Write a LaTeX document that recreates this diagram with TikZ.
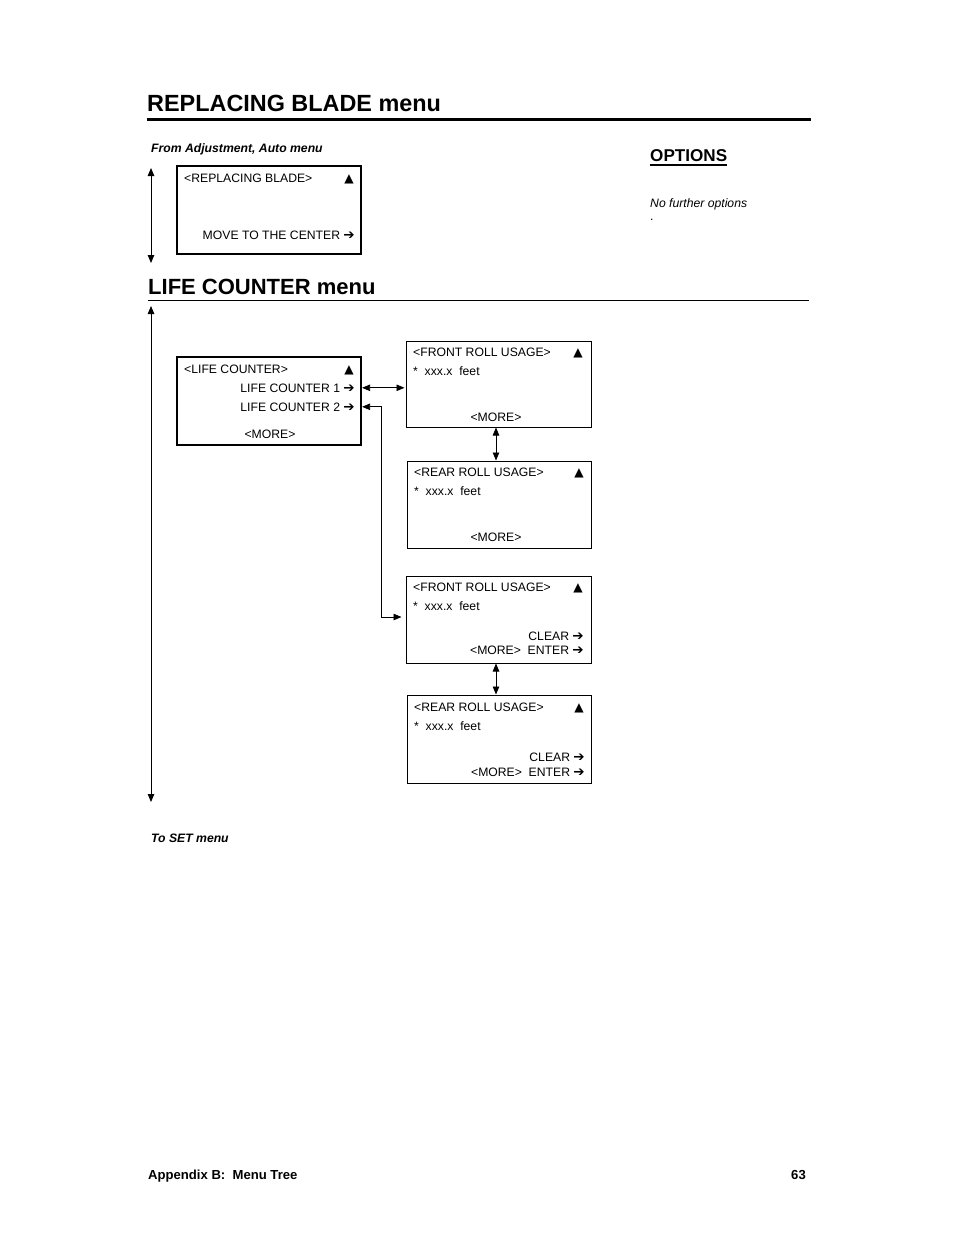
\documentclass[tikz,border=0pt]{standalone}
\usepackage{fontspec}
\setmainfont{Liberation Sans}
\newfontfamily\symfont{DejaVu Sans}
\usepackage{tikz}
\usetikzlibrary{arrows.meta}

\newcommand{\up}{{\symfont ▲}}
\newcommand{\go}{{\symfont\fontsize{13.5}{14}\selectfont ➔}}

\begin{document}
\begin{tikzpicture}[x=1pt,y=-1pt,
    txt/.style={inner sep=0pt, font=\fontsize{12.2}{14}\selectfont},
    menubox/.style={draw, line width=1pt, inner sep=0pt},
    mainbox/.style={menubox, line width=2.2pt},
    dbl/.style={line width=0.8pt,
                {Triangle[length=8pt,width=6.5pt]}-{Triangle[length=8pt,width=6.5pt]}}]

  \useasboundingbox (0,0) rectangle (954,1235);

  % ================= REPLACING BLADE menu =================
  \node[txt, anchor=base west, font=\fontsize{23.4}{26}\selectfont\bfseries] (headone) at (147,111.5) {REPLACING BLADE menu};
  \draw[line width=3pt] (147,119) -- (811,119);
  \node[txt, anchor=base west, font=\fontsize{12.2}{14}\selectfont\bfseries\itshape] (fromadj) at (151,152) {From Adjustment, Auto menu};

  % ---- the one box ----
  \node[mainbox, minimum width=184pt, minimum height=88pt] (blade) at (269,210) {};
  \node[txt, anchor=base west] (bladetitle) at (184,182) {<REPLACING BLADE>};
  \node[txt, anchor=base] (bladeup) at (349,182) {\up};
  \node[txt, anchor=base east] (blademove) at (355,239) {MOVE TO THE CENTER \go};

  \coordinate (bladetop) at (151,168);
  \coordinate (bladebot) at (151,263);
  \draw[dbl] (bladetop) -- (bladebot);

  % ---- options on the right ----
  \node[txt, anchor=base west, font=\fontsize{17.1}{20}\selectfont\bfseries] (opt) at (650,161) {OPTIONS};
  \draw[line width=1.6pt] ([yshift=-3.5pt]opt.south west) -- ([yshift=-3.5pt]opt.south east);
  \node[txt, anchor=base west, font=\fontsize{12.2}{14}\selectfont\itshape] (nofurther) at (650,207) {No further options};
  \node[txt, anchor=base west] (dot) at (650,220.5) {.};

  % ================= LIFE COUNTER menu =================
  \node[txt, anchor=base west, font=\fontsize{22}{26}\selectfont\bfseries] (headtwo) at (148,294) {LIFE COUNTER menu};
  \draw[line width=1.5pt] (148,300.5) -- (809,300.5);

  \coordinate (lifetop) at (151,306);
  \coordinate (lifebot) at (151,802);
  \draw[dbl] (lifetop) -- (lifebot);

  % ---- main box ----
  \node[mainbox, minimum width=184pt, minimum height=88pt] (lc) at (269,401) {};
  \node[txt, anchor=base west] (lctitle) at (184,373) {<LIFE COUNTER>};
  \node[txt, anchor=base] (lcup) at (349,373) {\up};
  \node[txt, anchor=base east] (lcone) at (355,392) {LIFE COUNTER 1 \go};
  \node[txt, anchor=base east] (lctwo) at (355,411) {LIFE COUNTER 2 \go};
  \node[txt, anchor=base] (lcmore) at (270,438) {<MORE>};

  % ---- counter 1: front / rear usage ----
  \node[menubox, minimum width=185pt, minimum height=86pt] (frone) at (498.5,384) {};
  \node[txt, anchor=base west] (fronetitle) at (413,356) {<FRONT ROLL USAGE>};
  \node[txt, anchor=base] (froneup) at (578,356) {\up};
  \node[txt, anchor=base west] (fronefeet) at (413,375) {*\ \ xxx.x\ \ feet};
  \node[txt, anchor=base] (fronemore) at (496,421) {<MORE>};

  \node[menubox, minimum width=184pt, minimum height=87pt] (rrone) at (499,504.5) {};
  \node[txt, anchor=base west] (rronetitle) at (414,476) {<REAR ROLL USAGE>};
  \node[txt, anchor=base] (rroneup) at (579,476) {\up};
  \node[txt, anchor=base west] (rronefeet) at (414,495) {*\ \ xxx.x\ \ feet};
  \node[txt, anchor=base] (rronemore) at (496,541) {<MORE>};

  % ---- counter 2: front / rear usage, with clear ----
  \node[menubox, minimum width=185pt, minimum height=87pt] (frtwo) at (498.5,619.5) {};
  \node[txt, anchor=base west] (frtwotitle) at (413,591) {<FRONT ROLL USAGE>};
  \node[txt, anchor=base] (frtwoup) at (578,591) {\up};
  \node[txt, anchor=base west] (frtwofeet) at (413,610) {*\ \ xxx.x\ \ feet};
  \node[txt, anchor=base east] (frtwoclear) at (584,640) {CLEAR \go};
  \node[txt, anchor=base east] (frtwoenter) at (584,654) {<MORE>\ \ ENTER \go};

  \node[menubox, minimum width=184pt, minimum height=88pt] (rrtwo) at (499,739) {};
  \node[txt, anchor=base west] (rrtwotitle) at (414,711) {<REAR ROLL USAGE>};
  \node[txt, anchor=base] (rrtwoup) at (579,711) {\up};
  \node[txt, anchor=base west] (rrtwofeet) at (414,730) {*\ \ xxx.x\ \ feet};
  \node[txt, anchor=base east] (rrtwoclear) at (585,761) {CLEAR \go};
  \node[txt, anchor=base east] (rrtwoenter) at (585,776) {<MORE>\ \ ENTER \go};

  % ---- connectors ----
  \draw[dbl] (lc.east |- lcone.center) -- ([xshift=-1pt]frone.west |- lcone.center);
  \draw[dbl] ([xshift=-2.5pt]frone.south) -- ([xshift=-2.5pt]frone.south |- rrone.north);
  \draw[dbl] ([xshift=-2.5pt]frtwo.south) -- ([xshift=-2.5pt]frtwo.south |- rrtwo.north);
  \coordinate (elbow) at (381,617);
  \draw[dbl, shorten >=4pt] (lc.east |- lctwo.center) -| (elbow) -- (frtwo.west |- elbow);

  % ================= bottom =================
  \node[txt, anchor=base west, font=\fontsize{12.2}{14}\selectfont\bfseries\itshape] (toset) at (151,842) {To SET menu};
  \node[txt, anchor=base west, font=\fontsize{13.1}{15}\selectfont\bfseries] (footleft) at (148,1179) {Appendix B:\ \ Menu Tree};
  \node[txt, anchor=base east, font=\fontsize{13.1}{15}\selectfont\bfseries] (footright) at (806,1179) {63};
\end{tikzpicture}
\end{document}
